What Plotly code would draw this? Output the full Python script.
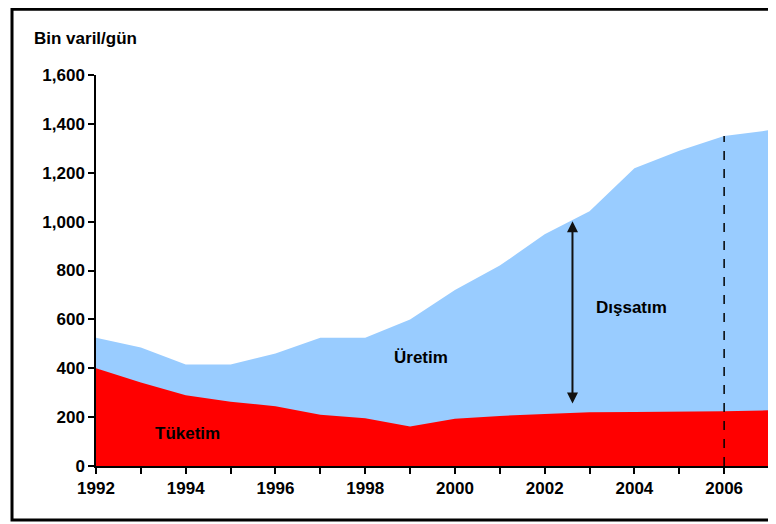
import plotly.graph_objects as go

years = list(range(1992, 2008))
production = [525, 485, 415, 415, 460, 525, 525, 600, 720, 820, 948, 1042, 1218, 1290, 1350, 1374]
consumption = [400, 342, 290, 263, 245, 210, 195, 162, 193, 205, 213, 220, 221, 222, 224, 228]

y_title = "Bin varil/gün"
label_cons = "Tüketim"
label_prod = "Üretim"
label_exp = "Dışsatım"

forecast_year = 2006
arrow_year = 2002.62
arrow_top = 1002
arrow_bottom = 250

BLUE = "#99CCFF"
RED = "#FF0000"
FONT = "Liberation Sans, Arial, sans-serif"

fig = go.Figure()
fig.add_trace(go.Scatter(x=years, y=production, mode="lines", line=dict(width=0, color=BLUE),
                         fill="tozeroy", fillcolor=BLUE, hoverinfo="skip", showlegend=False))
fig.add_trace(go.Scatter(x=years, y=consumption, mode="lines", line=dict(width=0, color=RED),
                         fill="tozeroy", fillcolor=RED, hoverinfo="skip", showlegend=False))

prod_at_forecast = production[years.index(forecast_year)]
fig.add_shape(type="line", xref="x", yref="y", x0=forecast_year, x1=forecast_year, y0=0, y1=prod_at_forecast,
              line=dict(color="black", width=1.5, dash="dash"))

# outer frame
fig.add_shape(type="rect", xref="paper", yref="paper", x0=-0.1248, x1=1.03, y0=-0.138, y1=1.168,
              line=dict(color="black", width=3), fillcolor="rgba(0,0,0,0)", layer="above")

fig.add_annotation(x=arrow_year, y=arrow_top, ax=arrow_year, ay=arrow_bottom, xref="x", yref="y",
                   axref="x", ayref="y", showarrow=True, arrowhead=2, startarrowhead=2,
                   arrowside="end+start", arrowsize=1.1, arrowwidth=2, arrowcolor="#111111", text="")

ann_font = dict(family=FONT, size=17, color="black", weight="bold")
fig.add_annotation(x=2003.93, y=650, text=label_exp, showarrow=False, xref="x", yref="y", font=ann_font)
fig.add_annotation(x=1999.25, y=443, text=label_prod, showarrow=False, xref="x", yref="y", font=ann_font)
fig.add_annotation(x=1994.03, y=135, text=label_cons, showarrow=False, xref="x", yref="y", font=ann_font)
fig.add_annotation(x=-0.0951, y=1.0946, xref="paper", yref="paper", xanchor="left", yanchor="middle",
                   text=y_title, showarrow=False,
                   font=dict(family=FONT, size=17, color="black", weight="bold"))

tick_font = dict(family=FONT, size=17, color="black", weight="bold")
fig.update_layout(
    width=768, height=516,
    margin=dict(l=88, r=7, t=67, b=58),
    paper_bgcolor="white", plot_bgcolor="white",
    font=dict(family=FONT, color="black"),
    xaxis=dict(range=[1992, 2007], tickmode="linear", tick0=1992, dtick=2,
               ticks="outside", ticklen=6, tickwidth=1.5, tickcolor="black",
               showline=True, linecolor="black", linewidth=1.5, showgrid=False, zeroline=False,
               tickfont=tick_font,
               minor=dict(dtick=1, tick0=1992, ticks="outside", ticklen=6, tickwidth=1.5, tickcolor="black", showgrid=False)),
    yaxis=dict(range=[0, 1600], tickmode="linear", tick0=0, dtick=200, tickformat=",d",
               ticks="outside", ticklen=6, tickwidth=1.5, tickcolor="black",
               showline=True, linecolor="black", linewidth=1.5, showgrid=False, zeroline=False,
               tickfont=tick_font),
)

fig.write_html("out.html")
